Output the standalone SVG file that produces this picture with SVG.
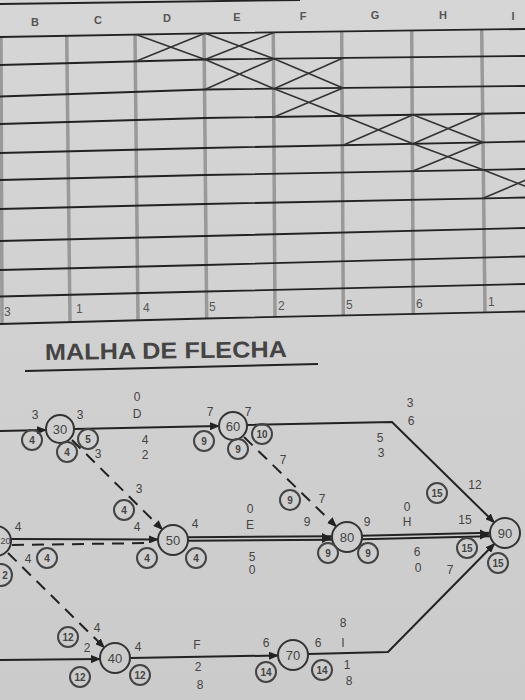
<svg xmlns="http://www.w3.org/2000/svg" width="525" height="700" viewBox="0 0 525 700">
<defs>
<linearGradient id="bg" x1="0" y1="0" x2="0" y2="1">
<stop offset="0" stop-color="#d6d6d6"/>
<stop offset="1" stop-color="#cbcbcb"/>
</linearGradient>
<marker id="arr" viewBox="0 0 10 8" refX="9" refY="4" markerWidth="10" markerHeight="8" markerUnits="userSpaceOnUse" orient="auto">
<path d="M0,0 L10,4 L0,8 Z" fill="#222"/>
</marker>
<style>
.h{fill:none;stroke:#222;stroke-width:1.8}
.v{stroke:#999;stroke-width:3.5}
.x{stroke:#333;stroke-width:1.6}
.hd{font-family:"Liberation Sans",Arial,sans-serif;font-size:11px;font-weight:bold;fill:#555;text-anchor:middle}
.bn{font-family:"Liberation Sans",Arial,sans-serif;font-size:12px;fill:#555}
.e{fill:none;stroke:#222;stroke-width:2}
.d{fill:none;stroke:#222;stroke-width:2;stroke-dasharray:12 8}
.n circle{fill:none;stroke:#333;stroke-width:2}
.n text{font-family:"Liberation Sans",Arial,sans-serif;font-size:13px;fill:#444;text-anchor:middle;dominant-baseline:central}
.s circle{fill:none;stroke:#444;stroke-width:2}
.s text{font-family:"Liberation Sans",Arial,sans-serif;font-size:10px;font-weight:bold;fill:#444;text-anchor:middle;dominant-baseline:central}
.l{font-family:"Liberation Sans",Arial,sans-serif;font-size:12px;fill:#444;text-anchor:middle;dominant-baseline:central}
</style>
</defs>
<rect width="525" height="700" fill="url(#bg)"/>

<g id="grid">
<line x1="0" y1="4" x2="300" y2="0" stroke="#222" stroke-width="2"/>
<g id="verticals">
<line class="v" x1="1" y1="37" x2="2" y2="324"/>
<line class="v" x1="66.7" y1="35.8" x2="70" y2="322.1"/>
<line class="v" x1="135" y1="34.5" x2="138" y2="320.3"/>
<line class="v" x1="204" y1="33.3" x2="206.7" y2="318.5"/>
<line class="v" x1="273.3" y1="32.4" x2="275" y2="317.3"/>
<line class="v" x1="341.7" y1="31.5" x2="343.3" y2="316.1"/>
<line class="v" x1="411.7" y1="30.3" x2="413.3" y2="314.9"/>
<line class="v" x1="481.7" y1="29.5" x2="485" y2="312.3"/>
</g>
<g id="rows">
<polyline class="h" points="0,37 205,33.3 525,29"/>
<polyline class="h" points="0,65 205,59.5 525,56"/>
<polyline class="h" points="0,96.5 205,89.5 525,86"/>
<polyline class="h" points="0,124 205,118 525,113"/>
<polyline class="h" points="0,153 205,148 525,141.5"/>
<polyline class="h" points="0,180 205,175 525,169"/>
<polyline class="h" points="0,209 205,204 525,197.5"/>
<polyline class="h" points="0,241 205,236 525,228"/>
<polyline class="h" points="0,270 205,265 525,256.5"/>
<polyline class="h" points="0,296.5 205,291.5 525,284"/>
<polyline class="h" points="0,324 205,318.5 525,311.5"/>
</g>
<g id="crosses">
<line class="x" x1="136" y1="34.5" x2="205" y2="59.5"/><line class="x" x1="136" y1="61.3" x2="205" y2="33.3"/>
<line class="x" x1="205" y1="33.3" x2="274" y2="58.7"/><line class="x" x1="205" y1="59.5" x2="274" y2="32.4"/>
<line class="x" x1="205" y1="59.5" x2="274" y2="88.7"/><line class="x" x1="205" y1="89.5" x2="274" y2="58.7"/>
<line class="x" x1="274" y1="58.7" x2="343" y2="88"/><line class="x" x1="274" y1="88.7" x2="343" y2="58"/>
<line class="x" x1="274" y1="88.7" x2="343" y2="115.8"/><line class="x" x1="274" y1="116.9" x2="343" y2="88"/>
<line class="x" x1="343" y1="115.8" x2="413" y2="143.8"/><line class="x" x1="343" y1="145.2" x2="413" y2="114.7"/>
<line class="x" x1="413" y1="114.7" x2="483" y2="142.3"/><line class="x" x1="413" y1="143.8" x2="483" y2="113.6"/>
<line class="x" x1="413" y1="143.8" x2="483" y2="169.8"/><line class="x" x1="413" y1="171.1" x2="483" y2="142.3"/>
<line class="x" x1="483" y1="169.8" x2="553" y2="197"/><line class="x" x1="483" y1="198.3" x2="553" y2="168.5"/>
</g>
<g id="headers">
<text class="hd" x="35" y="26">B</text>
<text class="hd" x="98" y="24">C</text>
<text class="hd" x="167" y="22">D</text>
<text class="hd" x="237" y="21">E</text>
<text class="hd" x="303" y="20">F</text>
<text class="hd" x="375" y="19">G</text>
<text class="hd" x="443" y="19">H</text>
<text class="hd" x="513" y="20">I</text>
</g>
<g id="durations">
<text class="bn" x="4" y="316">3</text>
<text class="bn" x="76" y="313">1</text>
<text class="bn" x="143" y="312">4</text>
<text class="bn" x="209" y="311">5</text>
<text class="bn" x="278" y="310">2</text>
<text class="bn" x="346" y="309">5</text>
<text class="bn" x="416" y="308">6</text>
<text class="bn" x="488" y="306">1</text>
</g>
</g>

<g id="title">
<text x="45" y="360" font-family="Liberation Sans,Arial,sans-serif" font-size="23" font-weight="bold" fill="#444" textLength="242" lengthAdjust="spacingAndGlyphs" transform="rotate(-0.7 45 360)">MALHA DE FLECHA</text>
<line x1="25" y1="371" x2="318" y2="364" stroke="#222" stroke-width="2"/>
</g>

<g id="connectors">
<line class="e" x1="0" y1="431" x2="46" y2="430" marker-end="url(#arr)"/>
<line class="e" x1="74" y1="429" x2="219" y2="426" marker-end="url(#arr)"/>
<polyline class="e" points="247,425 392,422 494.3,522.5" marker-end="url(#arr)"/>
<line class="d" x1="72" y1="440" x2="162.3" y2="529.4" marker-end="url(#arr)"/>
<line class="d" x1="244" y1="437" x2="336.2" y2="526.5" marker-end="url(#arr)"/>
<line class="e" x1="10" y1="539" x2="158" y2="539.5" marker-end="url(#arr)"/>
<line class="d" x1="12" y1="545" x2="152" y2="543" stroke-dasharray="9 6"/>
<line class="e" x1="188" y1="537.2" x2="332" y2="536.2"/>
<line class="e" x1="188" y1="540.8" x2="332" y2="539.8"/>
<path d="M322,533 L332,538 L322,543 Z" fill="#222"/>
<line class="e" x1="362" y1="535.7" x2="490" y2="532.7"/>
<line class="e" x1="362" y1="539.3" x2="490" y2="536.3"/>
<path d="M480,529.5 L490,534.5 L480,539.5 Z" fill="#222"/>
<line class="d" x1="8" y1="553" x2="104.3" y2="647.5" marker-end="url(#arr)"/>
<line class="e" x1="0" y1="660" x2="100" y2="659" marker-end="url(#arr)"/>
<line class="e" x1="130" y1="658" x2="278" y2="655.5" marker-end="url(#arr)"/>
<polyline class="e" points="308,654 388,652 494.5,543.7" marker-end="url(#arr)"/>
</g>

<g id="node20" class="n"><circle cx="-4" cy="541" r="15"/><text x="0.5" y="541" style="text-anchor:start;font-size:9px">20</text></g>
<g id="node30" class="n"><circle cx="60" cy="429" r="14"/><text x="60" y="429">30</text></g>
<g id="node60" class="n"><circle cx="233" cy="426" r="14"/><text x="233" y="426">60</text></g>
<g id="node50" class="n"><circle cx="173" cy="540" r="15"/><text x="173" y="540">50</text></g>
<g id="node80" class="n"><circle cx="347" cy="537" r="15"/><text x="347" y="537">80</text></g>
<g id="node90" class="n"><circle cx="505" cy="533" r="15"/><text x="505" y="533">90</text></g>
<g id="node40" class="n"><circle cx="115" cy="658" r="15"/><text x="115" y="658">40</text></g>
<g id="node70" class="n"><circle cx="293" cy="655" r="15"/><text x="293" y="655">70</text></g>

<g id="times" class="s">
<circle cx="32" cy="440" r="10"/><text x="32" y="440">4</text>
<circle cx="67" cy="452" r="10"/><text x="67" y="452">4</text>
<circle cx="88" cy="439" r="10"/><text x="88" y="439">5</text>
<circle cx="204" cy="441" r="10"/><text x="204" y="441">9</text>
<circle cx="238" cy="449" r="10"/><text x="238" y="449">9</text>
<circle cx="262" cy="434" r="10"/><text x="262" y="434">10</text>
<circle cx="290" cy="500" r="10"/><text x="290" y="500">9</text>
<circle cx="124" cy="510" r="10"/><text x="124" y="510">4</text>
<circle cx="147" cy="558" r="10"/><text x="147" y="558">4</text>
<circle cx="196" cy="558" r="10"/><text x="196" y="558">4</text>
<circle cx="47" cy="558" r="10"/><text x="47" y="558">4</text>
<circle cx="1" cy="575" r="11"/><text x="5" y="575">2</text>
<circle cx="437" cy="493" r="10"/><text x="437" y="493">15</text>
<circle cx="328" cy="553" r="10"/><text x="328" y="553">9</text>
<circle cx="368" cy="553" r="10"/><text x="368" y="553">9</text>
<circle cx="467" cy="548" r="10"/><text x="467" y="548">15</text>
<circle cx="498" cy="563" r="10"/><text x="498" y="563">15</text>
<circle cx="68" cy="637" r="10"/><text x="68" y="637">12</text>
<circle cx="80" cy="677" r="10"/><text x="80" y="677">12</text>
<circle cx="140" cy="675" r="10"/><text x="140" y="675">12</text>
<circle cx="266" cy="672" r="10"/><text x="266" y="672">14</text>
<circle cx="322" cy="670" r="10"/><text x="322" y="670">14</text>
</g>

<g id="labels">
<text class="l" x="35" y="415">3</text>
<text class="l" x="80" y="415">3</text>
<text class="l" x="137" y="397">0</text>
<text class="l" x="137" y="414">D</text>
<text class="l" x="145" y="440">4</text>
<text class="l" x="145" y="455">2</text>
<text class="l" x="98" y="454">3</text>
<text class="l" x="139" y="489">3</text>
<text class="l" x="210" y="412">7</text>
<text class="l" x="248" y="412">7</text>
<text class="l" x="410" y="403">3</text>
<text class="l" x="411" y="421">6</text>
<text class="l" x="380" y="438">5</text>
<text class="l" x="381" y="453">3</text>
<text class="l" x="475" y="485">12</text>
<text class="l" x="283" y="460">7</text>
<text class="l" x="322" y="499">7</text>
<text class="l" x="18" y="527">4</text>
<text class="l" x="28" y="559">4</text>
<text class="l" x="137" y="527">4</text>
<text class="l" x="195" y="524">4</text>
<text class="l" x="250" y="509">0</text>
<text class="l" x="250" y="525">E</text>
<text class="l" x="252" y="557">5</text>
<text class="l" x="252" y="570">0</text>
<text class="l" x="307" y="522">9</text>
<text class="l" x="367" y="522">9</text>
<text class="l" x="407" y="507">0</text>
<text class="l" x="407" y="522">H</text>
<text class="l" x="465" y="520">15</text>
<text class="l" x="417" y="552">6</text>
<text class="l" x="418" y="568">0</text>
<text class="l" x="450" y="570">7</text>
<text class="l" x="97" y="628">4</text>
<text class="l" x="87" y="648">2</text>
<text class="l" x="138" y="647">4</text>
<text class="l" x="197" y="645">F</text>
<text class="l" x="198" y="667">2</text>
<text class="l" x="200" y="685">8</text>
<text class="l" x="266" y="643">6</text>
<text class="l" x="318" y="643">6</text>
<text class="l" x="343" y="623">8</text>
<text class="l" x="343" y="643">I</text>
<text class="l" x="347" y="665">1</text>
<text class="l" x="349" y="681">8</text>
</g>
</svg>
